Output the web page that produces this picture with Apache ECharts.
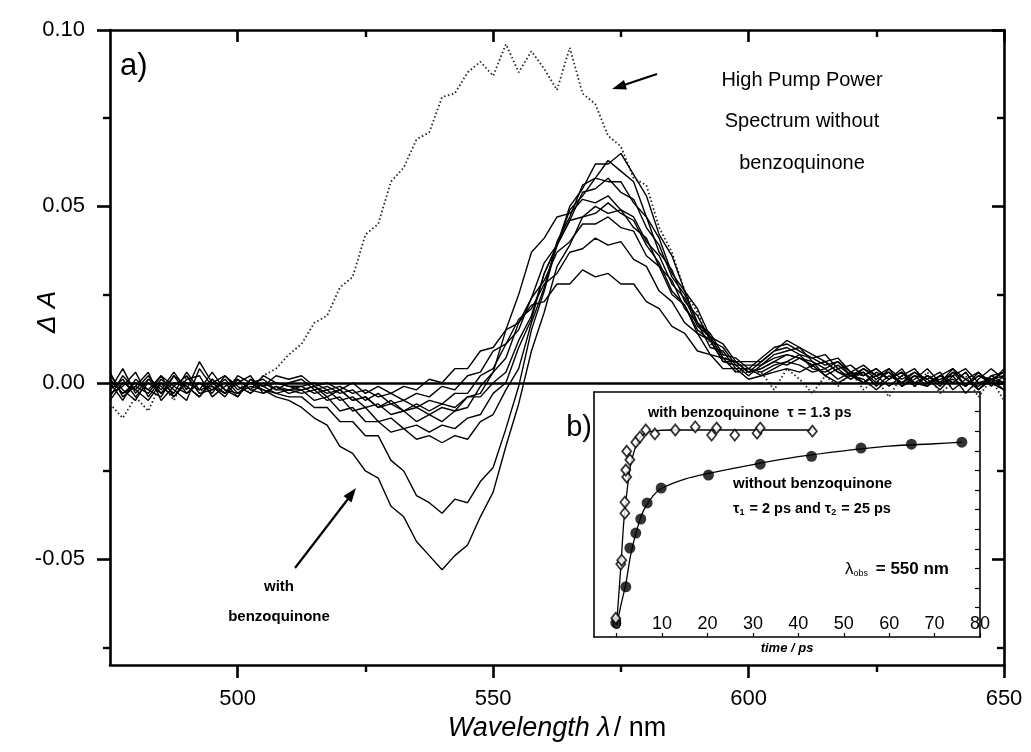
<!DOCTYPE html>
<html><head><meta charset="utf-8">
<script src="https://cdn.jsdelivr.net/npm/echarts@6.0.0/dist/echarts.min.js"></script>
<style>html,body{margin:0;padding:0;background:#fff}#c{width:1031px;height:752px}</style>
</head><body><div id="c"></div>
<script>
const wavelengths = [475,477.5,480,482.5,485,487.5,490,492.5,495,497.5,500,502.5,505,507.5,510,512.5,515,517.5,520,522.5,525,527.5,530,532.5,535,537.5,540,542.5,545,547.5,550,552.5,555,557.5,560,562.5,565,567.5,570,572.5,575,577.5,580,582.5,585,587.5,590,592.5,595,597.5,600,602.5,605,607.5,610,612.5,615,617.5,620,622.5,625,627.5,630,632.5,635,637.5,640,642.5,645,647.5,650];

const spec1 = [-0.002,0.001,-0.004,0.000,-0.003,0.002,-0.001,-0.004,0.001,-0.002,-0.003,0.000,-0.002,-0.004,-0.005,
 -0.007,-0.010,-0.012,-0.018,-0.020,-0.025,-0.027,-0.035,-0.038,-0.045,-0.049,-0.053,-0.049,-0.046,-0.038,-0.031,-0.018,-0.006,0.009,0.020,0.033,0.039,0.047,0.048,0.051,0.048,0.046,0.039,0.034,0.026,0.022,0.015,0.012,0.006,0.005,0.002,
 0.005,0.007,0.008,0.007,0.005,0.006,0.003,0.002,0.004,0.001,0.003,0.000,0.002,-0.001,0.002,0.000,0.003,-0.002,0.001,0.002];
const spec2 = [0.001,-0.003,0.000,-0.002,0.002,-0.001,-0.003,0.000,-0.002,0.001,-0.003,-0.001,-0.002,-0.003,-0.004,
 -0.004,-0.007,-0.007,-0.011,-0.011,-0.015,-0.015,-0.022,-0.025,-0.032,-0.034,-0.037,-0.033,-0.034,-0.028,-0.024,-0.013,-0.001,0.015,0.026,0.039,0.046,0.054,0.055,0.058,0.054,0.052,0.044,0.039,0.030,0.025,0.017,0.013,0.007,0.006,0.003,
 0.006,0.009,0.010,0.008,0.007,0.005,0.006,0.003,0.002,0.004,0.001,0.003,-0.001,0.002,0.000,0.003,-0.001,0.002,0.000,-0.002];
const spec3 = [-0.004,0.002,-0.002,-0.005,0.000,-0.003,0.003,-0.002,-0.001,-0.004,0.001,-0.002,-0.003,-0.001,-0.003,
 -0.002,-0.005,-0.004,-0.008,-0.007,-0.011,-0.011,-0.014,-0.013,-0.016,-0.015,-0.017,-0.015,-0.016,-0.011,-0.009,-0.002,0.004,0.017,0.027,0.040,0.047,0.056,0.058,0.063,0.060,0.057,0.047,0.041,0.031,0.026,0.017,0.014,0.008,0.007,0.004,
 0.007,0.010,0.011,0.009,0.007,0.008,0.004,0.005,0.002,0.004,0.001,0.003,0.000,0.002,-0.001,0.003,0.001,-0.002,0.002,0.000];
const spec4 = [0.000,-0.005,0.001,-0.002,-0.004,0.002,-0.003,0.000,-0.003,0.002,-0.001,-0.003,0.000,-0.002,-0.002,
 -0.003,-0.002,-0.005,-0.004,-0.008,-0.007,-0.011,-0.010,-0.013,-0.012,-0.014,-0.012,-0.013,-0.010,-0.009,-0.003,0.000,0.010,0.018,0.031,0.039,0.049,0.053,0.058,0.057,0.057,0.051,0.047,0.037,0.032,0.023,0.019,0.012,0.010,0.005,0.005,
 0.005,0.008,0.009,0.010,0.006,0.004,0.006,0.002,0.003,0.000,0.004,-0.001,0.002,0.001,0.003,-0.002,0.001,0.003,-0.001,0.002];
const spec5 = [-0.003,-0.001,0.003,-0.004,0.001,-0.002,-0.005,0.004,-0.001,-0.003,0.000,0.002,-0.003,-0.001,-0.002,
 -0.001,-0.003,-0.002,-0.005,-0.004,-0.007,-0.006,-0.009,-0.008,-0.011,-0.009,-0.011,-0.008,-0.007,-0.001,0.003,0.015,0.025,0.037,0.041,0.047,0.048,0.052,0.051,0.053,0.049,0.047,0.040,0.036,0.028,0.024,0.016,0.013,0.007,0.006,0.003,
 0.004,0.006,0.008,0.007,0.005,0.006,0.003,0.001,0.004,0.002,-0.001,0.002,0.004,0.000,0.001,0.002,-0.003,0.001,0.004,0.001];
const spec6 = [0.002,-0.002,-0.005,0.001,-0.001,-0.004,0.000,-0.002,0.003,-0.002,-0.004,0.001,-0.001,0.000,-0.001,
 -0.002,-0.001,-0.003,-0.002,-0.005,-0.004,-0.007,-0.006,-0.008,-0.007,-0.009,-0.007,-0.008,-0.004,-0.003,0.003,0.007,0.017,0.024,0.034,0.039,0.046,0.047,0.050,0.048,0.049,0.044,0.041,0.033,0.029,0.021,0.017,0.010,0.009,0.004,0.004,
 0.003,0.005,0.006,0.008,0.004,0.003,0.005,0.002,0.000,0.003,0.001,0.004,-0.001,0.002,0.000,0.004,0.001,-0.001,0.002,0.003];
const spec7 = [-0.005,0.000,-0.002,0.002,-0.003,0.000,-0.001,-0.004,0.000,0.002,-0.002,0.000,0.001,-0.002,0.000,
 0.001,-0.002,-0.001,-0.003,-0.002,-0.005,-0.003,-0.006,-0.005,-0.007,-0.005,-0.006,-0.003,-0.003,0.002,0.004,0.011,0.015,0.024,0.029,0.037,0.040,0.045,0.045,0.047,0.044,0.043,0.036,0.033,0.025,0.022,0.014,0.012,0.006,0.006,0.003,
 0.004,0.006,0.005,0.007,0.006,0.002,0.004,0.001,0.003,-0.001,0.002,0.000,0.003,0.001,-0.002,0.002,0.004,0.000,0.001,-0.002];
const spec8 = [0.003,-0.004,-0.001,-0.003,0.002,-0.004,0.001,0.002,-0.004,-0.001,0.001,-0.002,0.002,0.000,-0.001,
 -0.001,0.000,-0.002,-0.001,-0.003,-0.002,-0.004,-0.003,-0.005,-0.003,-0.004,-0.001,-0.002,0.002,0.003,0.009,0.011,0.018,0.021,0.028,0.031,0.037,0.038,0.041,0.039,0.040,0.035,0.033,0.026,0.023,0.017,0.014,0.008,0.007,0.003,0.004,
 0.002,0.004,0.006,0.005,0.003,0.004,0.001,0.003,0.000,0.002,0.003,-0.001,0.001,0.004,0.000,0.001,-0.001,0.003,0.000,0.004];
const spec9 = [-0.002,0.004,-0.003,0.001,-0.002,0.003,-0.002,0.006,0.000,-0.003,0.002,0.000,-0.001,0.002,0.001,
 0.002,-0.001,0.000,-0.002,0.000,-0.003,-0.001,-0.003,-0.001,-0.002,0.001,0.000,0.004,0.004,0.009,0.010,0.015,0.017,0.022,0.023,0.028,0.028,0.032,0.030,0.031,0.028,0.028,0.023,0.021,0.016,0.014,0.009,0.008,0.004,0.004,0.001,
 0.002,0.003,0.004,0.003,0.005,0.002,0.000,0.002,0.001,-0.002,0.001,0.003,0.000,-0.001,0.002,0.000,0.003,-0.002,0.001,0.000];
const spec10 = [0.001,-0.003,-0.001,0.003,-0.005,-0.001,0.002,-0.003,-0.002,0.000,-0.004,0.001,-0.001,-0.003,-0.002,
 -0.002,-0.001,-0.004,-0.002,-0.005,-0.004,-0.007,-0.005,-0.008,-0.006,-0.008,-0.006,-0.007,-0.004,-0.004,0.000,0.003,0.012,0.019,0.031,0.039,0.050,0.055,0.062,0.062,0.065,0.059,0.053,0.042,0.036,0.026,0.021,0.013,0.011,0.006,0.006,
 0.006,0.009,0.012,0.010,0.008,0.006,0.007,0.003,0.005,0.002,0.004,0.001,0.003,0.000,0.002,0.004,-0.001,0.002,0.001,0.003];
const highPump = [-0.006,-0.010,-0.004,-0.008,0.000,-0.005,0.002,-0.003,0.001,-0.002,0.000,-0.003,0.002,0.004,0.008,
 0.011,0.017,0.019,0.027,0.030,0.042,0.045,0.057,0.061,0.069,0.071,0.081,0.082,0.088,0.091,0.087,0.096,0.088,0.094,0.089,0.083,0.095,0.082,0.079,0.070,0.067,0.058,0.056,0.044,0.037,0.026,0.020,0.011,0.008,0.003,0.003,
 0.003,-0.002,0.004,0.001,-0.003,0.002,-0.001,0.003,-0.002,0.001,-0.004,0.002,-0.001,0.003,-0.003,0.000,0.002,-0.004,0.001,-0.005];

const xMajorTicks = [500, 550, 600, 650];
const xMinorTicks = [525, 575, 625];
const yMajorTicks = [-0.05, 0, 0.05, 0.10];
const yMinorTicks = [-0.075, -0.025, 0.025, 0.075];

// inset b)
const insetTimeTicks = [0, 10, 20, 30, 40, 50, 60, 70, 80];
const insetSideTicks = [0.5, 1, 1.5, 2, 2.5, 3, 3.5, 4, 4.5, 5, 5.5];
const tWithBQ = [-0.2, 0.9, 1.1, 1.8, 1.8, 2.2, 2.0, 2.9, 2.2, 4.2, 5.1, 6.4, 8.4, 12.9, 17.3, 20.9, 22.0, 26.0, 30.9, 31.6, 43.1];
const vWithBQ = [0.23, 1.61, 1.71, 2.91, 3.19, 3.83, 4.01, 4.27, 4.49, 4.72, 4.85, 5.03, 4.93, 5.03, 5.11, 4.90, 5.08, 4.90, 4.95, 5.08, 5.00];
const tNoBQ = [-0.2, 2.0, 2.9, 4.2, 5.3, 6.7, 9.8, 20.2, 31.6, 42.9, 53.8, 64.9, 76.0];
const vNoBQ = [0.11, 1.03, 2.02, 2.40, 2.76, 3.17, 3.55, 3.88, 4.16, 4.36, 4.57, 4.67, 4.72];
const tFitWithBQ = [0, 0.5, 1, 1.5, 2, 3, 4, 5, 6, 8, 12, 43.1];
const vFitWithBQ = [0.1, 0.9, 1.7, 2.6, 3.2, 4.1, 4.55, 4.8, 4.93, 5.0, 5.03, 5.03];
const tFitNoBQ = [0, 1, 2, 3, 4, 5, 6, 8, 10, 15, 20, 30, 40, 50, 60, 70, 76];
const vFitNoBQ = [0.05, 0.6, 1.1, 1.8, 2.3, 2.7, 3.0, 3.35, 3.55, 3.78, 3.92, 4.15, 4.35, 4.5, 4.62, 4.68, 4.72];

const FONT = 'Liberation Sans, Arial, Helvetica, sans-serif';
const zip = (a, b) => a.map((v, i) => [v, b[i]]);

const spectra = [spec1, spec2, spec3, spec4, spec5, spec6, spec7, spec8, spec9, spec10];
const series = spectra.map((s, k) => ({
  type: 'line', xAxisIndex: 0, yAxisIndex: 0, data: zip(wavelengths, s),
  symbol: 'none', lineStyle: {color: '#000', width: 1.4}, animation: false, z: 3,
  markLine: k === 0 ? {silent: true, symbol: 'none', label: {show: false},
    lineStyle: {color: '#000', width: 2.6, type: 'solid'}, data: [{yAxis: 0}], animation: false} : undefined
}));
series.push({type: 'line', xAxisIndex: 0, yAxisIndex: 0, data: zip(wavelengths, highPump),
  symbol: 'none', lineStyle: {color: '#222', width: 1.8, type: [1.5, 2.5]}, animation: false, z: 2});
series.push({type: 'line', xAxisIndex: 4, yAxisIndex: 4, data: zip(tFitWithBQ, vFitWithBQ), symbol: 'none', smooth: 0.3,
  lineStyle: {color: '#000', width: 1.3}, animation: false, z: 4});
series.push({type: 'line', xAxisIndex: 4, yAxisIndex: 4, data: zip(tFitNoBQ, vFitNoBQ), symbol: 'none', smooth: 0.3,
  lineStyle: {color: '#000', width: 1.3}, animation: false, z: 4});
series.push({type: 'scatter', xAxisIndex: 4, yAxisIndex: 4, data: zip(tWithBQ, vWithBQ), symbol: 'diamond', symbolSize: [9, 11],
  itemStyle: {color: '#fff', borderColor: '#000', borderWidth: 1.8}, animation: false, z: 6});
series.push({type: 'scatter', xAxisIndex: 4, yAxisIndex: 4, data: zip(tNoBQ, vNoBQ), symbol: 'circle', symbolSize: 11,
  itemStyle: {color: '#000'}, animation: false, z: 5});

const axLine = {onZero: false, lineStyle: {color: '#000', width: 2.6}};
const inLine = {onZero: false, lineStyle: {color: '#000', width: 1.6}};
const noLine = {show: false, onZero: false};
const txt = (x, y, text, size, extra, align) => ({type: 'text', x: x, y: y,
  style: Object.assign({text: text, fontSize: size, fontFamily: FONT, fill: '#000',
    textAlign: align || 'center', align: align || 'center', textVerticalAlign: 'middle', verticalAlign: 'middle'}, extra || {})});
const option = {
  backgroundColor: '#fff',
  animation: false,
  grid: [
    {left: 110, top: 30, width: 894, height: 635},
    {left: 110, top: 30, width: 894, height: 635},
    {left: 594, top: 392, width: 386, height: 245}
  ],
  xAxis: [
    {gridIndex: 0, type: 'value', min: 475, max: 650, position: 'bottom', axisLine: axLine,
     axisTick: {customValues: xMajorTicks, length: 13, lineStyle: {color: '#000', width: 2.6}},
     axisLabel: {customValues: xMajorTicks, fontSize: 22, color: '#000', fontFamily: FONT, margin: 23},
     splitLine: {show: false},
     name: '{i|Wavelength λ} {n|/ nm}', nameLocation: 'middle', nameGap: 49,
     nameTextStyle: {rich: {i: {fontStyle: 'italic', fontSize: 27, fontFamily: FONT, color: '#000'}, n: {fontSize: 27, fontFamily: FONT, color: '#000'}}}},
    {gridIndex: 0, type: 'value', min: 475, max: 650, position: 'top', axisLine: axLine,
     axisTick: {customValues: xMajorTicks, inside: true, length: 12, lineStyle: {color: '#000', width: 2.6}},
     axisLabel: {show: false}, splitLine: {show: false}},
    {gridIndex: 1, type: 'value', min: 475, max: 650, position: 'bottom', axisLine: noLine,
     axisTick: {customValues: xMinorTicks, length: 7, lineStyle: {color: '#000', width: 2.4}},
     axisLabel: {show: false}, splitLine: {show: false}},
    {gridIndex: 1, type: 'value', min: 475, max: 650, position: 'top', axisLine: noLine,
     axisTick: {customValues: xMinorTicks, inside: true, length: 7, lineStyle: {color: '#000', width: 2.4}},
     axisLabel: {show: false}, splitLine: {show: false}},
    {gridIndex: 2, type: 'value', min: -5, max: 80, position: 'bottom', axisLine: inLine,
     axisTick: {customValues: insetTimeTicks, inside: true, length: 4, lineStyle: {color: '#000', width: 1.2}},
     axisLabel: {customValues: insetTimeTicks, inside: true, margin: 4, fontSize: 18, color: '#000', fontFamily: FONT},
     splitLine: {show: false},
     name: 'time / ps', nameLocation: 'middle', nameGap: 5,
     nameTextStyle: {fontStyle: 'italic', fontWeight: 'bold', fontSize: 13, fontFamily: FONT, color: '#000', verticalAlign: 'top'}},
    {gridIndex: 2, type: 'value', min: -5, max: 80, position: 'top', axisLine: inLine,
     axisTick: {show: false}, axisLabel: {show: false}, splitLine: {show: false}}
  ],
  yAxis: [
    {gridIndex: 0, type: 'value', min: -0.08, max: 0.10, position: 'left', axisLine: axLine,
     axisTick: {customValues: yMajorTicks, length: 13, lineStyle: {color: '#000', width: 2.6}},
     axisLabel: {customValues: yMajorTicks, fontSize: 22, color: '#000', fontFamily: FONT, margin: 25,
       formatter: v => v.toFixed(2)},
     splitLine: {show: false}},
    {gridIndex: 0, type: 'value', min: -0.08, max: 0.10, position: 'right', axisLine: axLine,
     axisTick: {customValues: yMajorTicks, inside: true, length: 12, lineStyle: {color: '#000', width: 2.6}},
     axisLabel: {show: false}, splitLine: {show: false}},
    {gridIndex: 1, type: 'value', min: -0.08, max: 0.10, position: 'left', axisLine: noLine,
     axisTick: {customValues: yMinorTicks, length: 7, lineStyle: {color: '#000', width: 2.4}},
     axisLabel: {show: false}, splitLine: {show: false}},
    {gridIndex: 1, type: 'value', min: -0.08, max: 0.10, position: 'right', axisLine: noLine,
     axisTick: {customValues: yMinorTicks, inside: true, length: 7, lineStyle: {color: '#000', width: 2.4}},
     axisLabel: {show: false}, splitLine: {show: false}},
    {gridIndex: 2, type: 'value', min: -0.25, max: 6, position: 'left', axisLine: inLine,
     axisTick: {show: false}, axisLabel: {show: false}, splitLine: {show: false}},
    {gridIndex: 2, type: 'value', min: -0.25, max: 6, position: 'right', axisLine: inLine,
     axisTick: {customValues: insetSideTicks, inside: true, length: 5, lineStyle: {color: '#000', width: 1.2}},
     axisLabel: {show: false}, splitLine: {show: false}}
  ],
  series: series,
  graphic: [
    txt(120, 66, 'a)', 31, null, 'left'),
    txt(802, 80, 'High Pump Power', 20),
    txt(802, 121, 'Spectrum without', 20),
    txt(802, 163, 'benzoquinone', 20),
    {type: 'line', shape: {x1: 657, y1: 74, x2: 624, y2: 85}, style: {stroke: '#000', lineWidth: 2.2}},
    {type: 'polygon', shape: {points: [[612, 89], [627, 89.5], [624, 80]]}, style: {fill: '#000'}},
    {type: 'line', shape: {x1: 295, y1: 568, x2: 348, y2: 499}, style: {stroke: '#000', lineWidth: 2.2}},
    {type: 'polygon', shape: {points: [[356, 488], [351.5, 502.5], [343.5, 496]]}, style: {fill: '#000'}},
    txt(279, 587, 'with', 15, {fontWeight: 'bold'}),
    txt(279, 617, 'benzoquinone', 15, {fontWeight: 'bold'}),
    {type: 'text', x: 48, y: 312, rotation: Math.PI / 2, style: {text: 'Δ A', fontSize: 26, fontStyle: 'italic', fontFamily: FONT, fill: '#000', textAlign: 'center', textVerticalAlign: 'middle', align: 'center', verticalAlign: 'middle'}},
    txt(592, 428, 'b)', 29, null, 'right'),
    txt(648, 413, 'with benzoquinone  τ = 1.3 ps', 14.5, {fontWeight: 'bold'}, 'left'),
    txt(733, 484, 'without benzoquinone', 15, {fontWeight: 'bold'}, 'left'),
    {type: 'text', x: 733, y: 509, style: {text: '{a|τ}{s|1}{a| = 2 ps and }{a|τ}{s|2}{a| = 25 ps}', rich: {a: {fontSize: 14.5, fontWeight: 'bold', fontFamily: FONT, fill: '#000', color: '#000'}, s: {fontSize: 9, fontWeight: 'bold', fontFamily: FONT, padding: [7, 1, 0, 0], fill: '#000', color: '#000'}}, textAlign: 'left', textVerticalAlign: 'middle', align: 'left', verticalAlign: 'middle'}},
    {type: 'text', x: 845, y: 569, style: {text: '{a|λ}{s|obs}{b| = 550 nm}', rich: {a: {fontSize: 17, fontFamily: FONT, color: '#000', fill: '#000'}, s: {fontSize: 9, fontFamily: FONT, padding: [9, 3, 0, 0], color: '#000', fill: '#000'}, b: {fontSize: 17, fontWeight: 'bold', fontFamily: FONT, color: '#000', fill: '#000'}}, textAlign: 'left', textVerticalAlign: 'middle', align: 'left', verticalAlign: 'middle'}}
  ]
};
const chart = echarts.init(document.getElementById('c'), null, {renderer: 'canvas'});
chart.setOption(option);
</script>
</body></html>
